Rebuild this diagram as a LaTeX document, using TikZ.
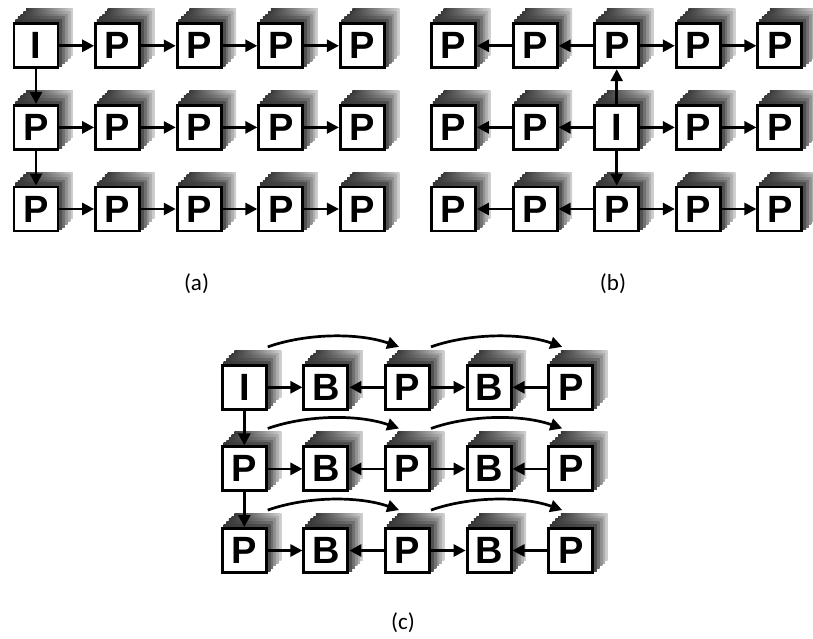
\documentclass[tikz,border=0pt]{standalone}
\usepackage{fontspec}
\usetikzlibrary{arrows.meta,calc,backgrounds}
\newfontfamily\boxfont{Liberation Sans}
\newfontfamily\labfont{Carlito}

\tikzset{
  frame/.style={draw=black, fill=white, line width=2.9pt, minimum size=44pt,
    inner sep=0pt, font=\boxfont\bfseries\fontsize{38}{38}\selectfont},
  arr/.style={line width=2.7pt, -{Triangle[length=12pt,width=12pt]}},
  caption/.style={font=\labfont\fontsize{23}{27}\selectfont},
}

% extruded grey layers behind a box, stacked from the farthest to the nearest
\newcommand{\extrude}[1]{%
  \foreach \k/\tone in {5/18,4/30,3/42,2/55,1/68}{%
    \shade[left color=black!78, right color=black!\tone]
      ($(#1.south west)+(\k*2.7,-\k*2.7)$) rectangle ($(#1.north east)+(\k*2.7,-\k*2.7)$);
  }%
}

\begin{document}
\begin{tikzpicture}[x=1pt,y=-1pt]
\useasboundingbox (0,0) rectangle (813,639);

% ---------- (a): I followed by P frames, predicted row by row ----------
\foreach \r/\first in {1/I,2/P,3/P}{
  \foreach \c/\t in {1/\first,2/P,3/P,4/P,5/P}{
    \node[frame] (a-\r-\c) at ({36+81.6*(\c-1)},{45.8+81.6*(\r-1)}) {\t};
  }
}

% ---------- (b): I in the centre, prediction spreading outwards ----------
\foreach \r/\mid in {1/P,2/I,3/P}{
  \foreach \c/\t in {1/P,2/P,3/\mid,4/P,5/P}{
    \node[frame] (b-\r-\c) at ({453.5+81.6*(\c-1)},{45.8+81.6*(\r-1)}) {\t};
  }
}

% ---------- (c): I/P anchors with B frames in between ----------
\foreach \r/\first in {1/I,2/P,3/P}{
  \foreach \c/\t in {1/\first,2/B,3/P,4/B,5/P}{
    \node[frame] (c-\r-\c) at ({244.3+81.6*(\c-1)},{387.3+81.6*(\r-1)}) {\t};
  }
}

% depth layers
\begin{scope}[on background layer]
  \foreach \p in {a,b,c}{
    \foreach \r in {1,2,3}{
      \foreach \c in {1,...,5}{
        \extrude{\p-\r-\c}
      }
    }
  }
\end{scope}

% connectors of (a)
\foreach \r in {1,2,3}{
  \foreach \c [evaluate=\c as \n using int(\c+1)] in {1,...,4}{
    \draw[arr] (a-\r-\c) -- (a-\r-\n);
  }
}
\draw[arr] (a-1-1) -- (a-2-1);
\draw[arr] (a-2-1) -- (a-3-1);

% connectors of (b)
\foreach \r in {1,2,3}{
  \draw[arr] (b-\r-3) -- (b-\r-2);
  \draw[arr] (b-\r-2) -- (b-\r-1);
  \draw[arr] (b-\r-3) -- (b-\r-4);
  \draw[arr] (b-\r-4) -- (b-\r-5);
}
\draw[arr] (b-2-3) -- (b-1-3);
\draw[arr] (b-2-3) -- (b-3-3);

% connectors of (c)
\foreach \r in {1,2,3}{
  \draw[arr] (c-\r-1) -- (c-\r-2);
  \draw[arr] (c-\r-3) -- (c-\r-2);
  \draw[arr] (c-\r-3) -- (c-\r-4);
  \draw[arr] (c-\r-5) -- (c-\r-4);
  % forward references skipping the B frame
  \coordinate (s\r a) at ($(c-\r-1.north east)+(0,-17)$);
  \coordinate (e\r a) at ($(c-\r-3.north west)+(15,-17)$);
  \coordinate (s\r b) at ($(c-\r-3.north east)+(0,-17)$);
  \coordinate (e\r b) at ($(c-\r-5.north west)+(15,-17)$);
  \draw[arr] (s\r a) .. controls ($(s\r a)+(40,-14)$) and ($(e\r a)+(-40,-14)$) .. (e\r a);
  \draw[arr] (s\r b) .. controls ($(s\r b)+(40,-14)$) and ($(e\r b)+(-40,-14)$) .. (e\r b);
}
\draw[arr] (c-1-1) -- (c-2-1);
\draw[arr] (c-2-1) -- (c-3-1);

% captions
\node[caption] (capa) at (196.5,284) {(a)};
\node[caption] (capb) at (613,284) {(b)};
\node[caption] (capc) at (403,623) {(c)};
\end{tikzpicture}
\end{document}
